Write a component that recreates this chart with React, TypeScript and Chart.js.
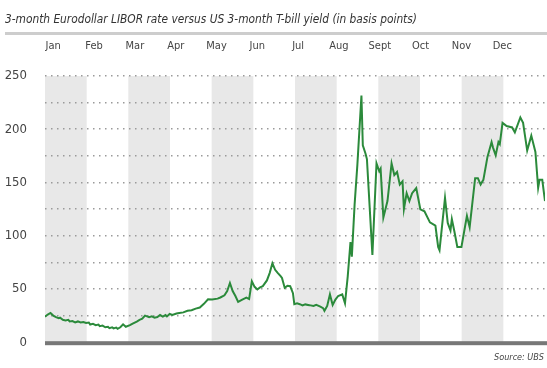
import { useEffect, useRef } from 'react';
import { Chart, registerables } from 'chart.js';
Chart.register(...registerables);

const titleText = '3-month Eurodollar LIBOR rate versus US 3-month T-bill yield (in basis points)';
const sourceText = 'Source: UBS';
const months = ['Jan', 'Feb', 'Mar', 'Apr', 'May', 'Jun', 'Jul', 'Aug', 'Sept', 'Oct', 'Nov', 'Dec'];
const yMax = 250;
const yStep = 25;
const yLabelStep = 50;

// day of year
const days = [
  0, 2, 4, 6, 8, 10, 11, 13, 15, 17, 18, 20, 22, 24, 26, 28, 30, 32, 33, 35, 37, 39, 40, 42, 44, 46, 47, 49, 50, 52, 53, 55, 57, 59, 62, 64, 67, 69, 71, 73, 74, 76, 78, 80, 82, 84, 86, 88, 89, 91, 93, 96, 98,
  101, 104, 107, 110, 113, 116, 119, 122, 126, 128, 131, 133, 135, 137, 139, 141, 144, 147, 149, 151, 153, 155, 157, 159, 162, 164, 166, 168, 170, 172, 173, 175, 177, 179, 181,
  182, 184, 186, 188, 190, 193, 196, 198, 201, 203, 204, 206, 208, 210, 212, 214, 217, 219,
  221, 223, 224, 226, 228, 231, 232, 234, 235, 239, 242, 244, 245, 247, 250, 253, 255, 257, 259, 261, 262, 264, 266, 268, 271, 274, 277, 281, 285, 287, 288, 292, 294, 296, 297, 299, 301, 304, 308, 310, 314, 316, 318, 320, 323, 326, 327, 329, 331, 332, 334, 337, 341, 343, 347, 349, 352, 355, 358, 360, 361, 363, 365,
];
// spread in basis points
const spread = [
  24, 26, 27.5, 25, 23.5, 22.5, 23, 21, 20.5, 21, 19.5, 19.8, 18.6, 19.5, 18.5, 19, 18, 18.5, 16.6, 17.2, 16, 16.5, 15, 15.6, 14, 14.5, 13.2, 14, 13, 13.8, 12.6, 14, 16.8, 14.5, 16, 17.5, 19.4, 21, 22, 25, 24.5, 23.5, 24.3, 23, 23.6, 25.5, 24, 25.5, 24.2, 26.5, 25.5, 27, 27.5,
  28, 29.5, 30, 31.5, 32.6, 36, 40.3, 40, 40.9, 42, 44, 48, 55.6, 48, 43.4, 37.8, 40, 41.8, 40.5, 57.2, 52, 49.5, 51.5, 52.6, 58, 64.9, 74.1, 68, 64.9, 62, 60.3, 51, 53, 52.6, 46,
  35.7, 36.5, 35.7, 34.5, 35.5, 34.8, 34, 35, 33.5, 32, 29.5, 34, 44.9, 35, 40, 43.4, 44.9, 36.6,
  61.8, 94, 80.3, 129, 166, 231.6, 185, 177, 172, 82, 168, 160.5, 163, 117, 132.6, 168, 157, 160, 148, 151, 125, 140, 132.6, 140, 144.8, 124.8, 123, 112.5, 109.5, 89.5, 86.4, 135.6, 112, 105, 115.6, 103, 89.5, 89.5, 118.7, 108, 154, 154, 148, 152.5, 174, 188, 183, 175.5, 188, 186, 206, 203, 201.7, 197, 211, 206, 180, 194, 178.7, 145, 152.5, 152.5, 132.6,
];

export default function App() {
  const ref = useRef<HTMLCanvasElement>(null);
  useEffect(() => {
    document.body.style.margin = '0';
    const yearDays = 365;
    const bandsPlugin = {
      id: 'bands',
      beforeDraw(chart: any) {
        const { ctx, chartArea, scales } = chart;
        const x = scales.x;
        ctx.save();
        ctx.fillStyle = '#e8e8e8';
        for (let i = 0; i < 12; i += 2) {
          const x0 = x.getPixelForValue((i * yearDays) / 12);
          const x1 = x.getPixelForValue(((i + 1) * yearDays) / 12);
          ctx.fillRect(x0, chartArea.top, x1 - x0, chartArea.bottom - chartArea.top);
        }
        ctx.restore();
      },
      beforeDatasetsDraw(chart: any) {
        const { ctx, chartArea, scales } = chart;
        const y0 = scales.y.getPixelForValue(0);
        ctx.save();
        ctx.fillStyle = '#777';
        ctx.fillRect(chartArea.left, y0 - 1, chart.width - chartArea.left, 4);
        ctx.restore();
      },
    };
    const chart = new Chart(ref.current as HTMLCanvasElement, {
      type: 'line',
      data: {
        datasets: [
          {
            data: days.map((d, i) => ({ x: d, y: spread[i] })),
            borderColor: '#2b8a3b',
            borderWidth: 2,
            pointRadius: 0,
            tension: 0,
            fill: false,
          },
        ],
      },
      options: {
        responsive: false,
        animation: false,
        events: [],
        layout: { padding: { top: 38, right: 2, bottom: 21, left: 0 } },
        plugins: { legend: { display: false }, tooltip: { enabled: false }, title: { display: false } },
        scales: {
          x: {
            type: 'linear',
            min: 0,
            max: yearDays,
            display: false,
          },
          x2: {
            type: 'linear',
            position: 'top',
            min: 0,
            max: yearDays,
            grid: { display: false, drawTicks: false },
            border: { display: false },
            afterBuildTicks: (axis: any) => {
              axis.ticks = months.map((_, i) => ({ value: 6 + i * 29.8 }));
            },
            afterFit: (axis: any) => {
              axis.height = 38;
            },
            ticks: {
              autoSkip: false,
              maxRotation: 0,
              padding: 23,
              color: '#444',
              font: { family: '"Liberation Sans Narrow", "DejaVu Sans Condensed", sans-serif', size: 11 },
              callback: (_v: any, i: number) => months[i],
            },
          },
          y: {
            min: 0,
            max: yMax,
            afterFit: (axis: any) => {
              axis.width = 45;
            },
            border: { display: false, dash: [1.5, 4.5] },
            grid: {
              color: (c: any) => (c.tick && c.tick.value === 0 ? 'rgba(0,0,0,0)' : '#9a9a9a'),
              lineWidth: 1.5,
              drawTicks: false,
            },
            ticks: {
              stepSize: yStep,
              padding: 18,
              color: '#444',
              font: { family: '"Liberation Sans Narrow", "DejaVu Sans Condensed", sans-serif', size: 13 },
              callback: (v: any) => (Number(v) % yLabelStep === 0 ? String(v) : ''),
            },
          },
        },
      },
      plugins: [bandsPlugin],
    } as any);
    return () => chart.destroy();
  }, []);

  return (
    <div style={{ position: 'relative', width: 547, height: 368, background: '#fff', overflow: 'hidden' }}>
      <canvas ref={ref} width={547} height={368} style={{ position: 'absolute', left: 0, top: 0 }} />
      <div
        style={{
          position: 'absolute',
          left: 5,
          top: 12,
          font: 'italic 11.8px "Liberation Sans Narrow", "DejaVu Sans Condensed", sans-serif',
          color: '#333',
          whiteSpace: 'nowrap',
        }}
      >
        {titleText}
      </div>
      <div style={{ position: 'absolute', left: 5, right: 0, top: 32, height: 3, background: '#cdcdcd' }} />
      <div
        style={{
          position: 'absolute',
          right: 3,
          top: 352,
          font: 'italic 9px "Liberation Sans Narrow", "DejaVu Sans Condensed", sans-serif',
          color: '#444',
          whiteSpace: 'nowrap',
        }}
      >
        {sourceText}
      </div>
    </div>
  );
}
